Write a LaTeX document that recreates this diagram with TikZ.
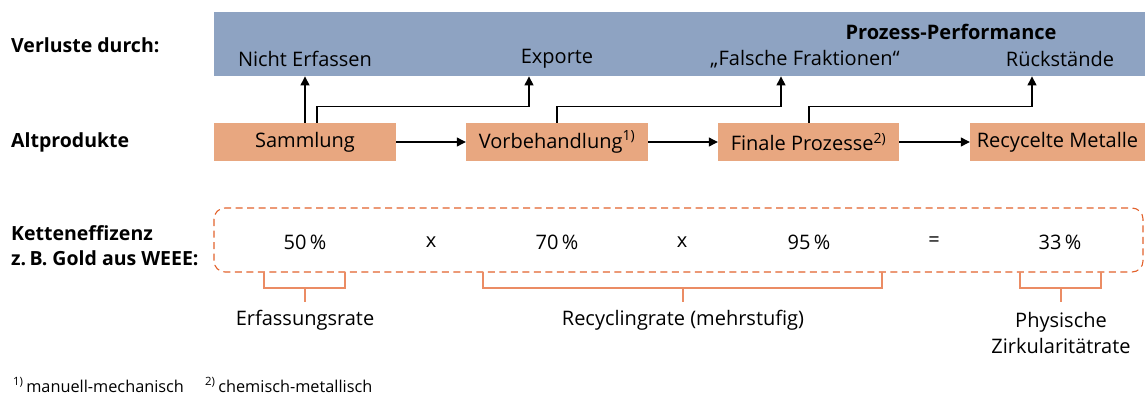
\documentclass[tikz,border=0pt]{standalone}
\usepackage{fontspec}
\setmainfont{Open Sans}
\usetikzlibrary{arrows.meta,calc}
\definecolor{bandblue}{RGB}{142,163,194}
\definecolor{boxorange}{RGB}{232,167,128}
\definecolor{dashorange}{RGB}{226,98,44}
\definecolor{brorange}{RGB}{235,140,100}
\begin{document}
\begin{tikzpicture}[x=1pt,y=-1pt,
  txt/.style={inner sep=0pt,font=\fontsize{20}{24}\selectfont},
  btxt/.style={inner sep=0pt,font=\fontsize{19.5}{25}\selectfont\bfseries,align=left},
  stepbox/.style={fill=boxorange,draw=none,minimum height=38pt,inner sep=0pt,font=\fontsize{20}{24}\selectfont},
  arr/.style={line width=1.1pt,-{Triangle[length=9pt,width=9pt]}},
  br/.style={draw=brorange,line width=1.3pt},
  fn/.style={inner sep=0pt,anchor=west,font=\fontsize{16.3}{19}\selectfont}]
\useasboundingbox (0,0) rectangle (1145,397);
% band
\node[fill=bandblue,inner sep=0pt,minimum width=931pt,minimum height=64pt,anchor=north west] (band) at (214,12) {};
\node[txt,font=\fontsize{20}{24}\selectfont\bfseries] (pp) at (951,32) {Prozess-Performance};
\node[txt] (ne) at (305,59) {Nicht Erfassen};
\node[txt] (ex) at (557,59) {Exporte};
\node[txt] (ff) at (805,59) {„Falsche Fraktionen“};
\node[txt] (rs) at (1060,59) {Rückstände};
% left labels
\node[btxt,anchor=west] (vd) at (11,45) {Verluste durch:};
\node[btxt,anchor=west] (ap) at (11,142) {Altprodukte};
\node[btxt,anchor=west] (ke) at (11,245.5) {Ketteneffizenz\\z.\,B. Gold aus WEEE:};
% boxes
\node[stepbox,minimum width=182pt] (sam) at (305,142) {Sammlung};
\node[stepbox,minimum width=182pt] (vor) at (557,142) {Vorbehandlung\textsuperscript{1)}};
\node[stepbox,minimum width=181pt] (fin) at (808.5,142) {Finale Prozesse\textsuperscript{2)}};
\node[stepbox,minimum width=175pt] (rec) at (1057.5,142) {Recycelte Metalle};
% horizontal arrows
\draw[arr] (sam.east) -- (vor.west);
\draw[arr] (vor.east) -- (fin.west);
\draw[arr] (fin.east) -- (rec.west);
% loss arrows
\draw[arr] (sam.north) -- (sam.north |- band.south);
\coordinate (s1) at ($(sam.north)+(12,0)$);
\coordinate (v1) at (vor.north);
\coordinate (f1) at ($(fin.north)+(0.5,0)$);
\draw[arr] (s1) -- ($(s1)+(0,-16)$) -| ($(ex.south |- band.south)+(-28,0)$);
\draw[arr] (v1) -- ($(v1)+(0,-16)$) -| ($(ff.south |- band.south)+(-24,0)$);
\draw[arr] (f1) -- ($(f1)+(0,-16)$) -| ($(rs.south |- band.south)+(-28,0)$);
% dashed box
\draw[dashorange,line width=1.1pt,dash pattern=on 7pt off 4.5pt,rounded corners=11pt] (214,208) rectangle (1143,272);
\node[txt] (v50) at (305,242) {50\,\%};
\node[txt] (m1) at (431,242) {x};
\node[txt] (v70) at (557,242) {70\,\%};
\node[txt] (m2) at (682,242) {x};
\node[txt] (v95) at (809,242) {95\,\%};
\node[txt] (eq) at (934,242) {=};
\node[txt] (v33) at (1060,242) {33\,\%};
% brackets
\draw[br] (264,272) -- (264,288) -- (345,288) -- (345,272);
\draw[br] (305,288) -- (305,302);
\draw[br] (483,272) -- (483,288) -- (882,288) -- (882,272);
\draw[br] (683,288) -- (683,302);
\draw[br] (1020,272) -- (1020,288) -- (1101,288) -- (1101,272);
\draw[br] (1061,288) -- (1061,302);
\node[txt] (er) at (305,320) {Erfassungsrate};
\node[txt] (rr) at (683,320) {Recyclingrate (mehrstufig)};
\node[txt,align=center,font=\fontsize{20}{26}\selectfont] (pz) at (1061,333) {Physische\\Zirkularitätrate};
% footnotes
\node[fn] (fn1) at (13,385) {\textsuperscript{1)}\,manuell-mechanisch};
\node[fn] (fn2) at (205,385) {\textsuperscript{2)}\,chemisch-metallisch};
\end{tikzpicture}
\end{document}
